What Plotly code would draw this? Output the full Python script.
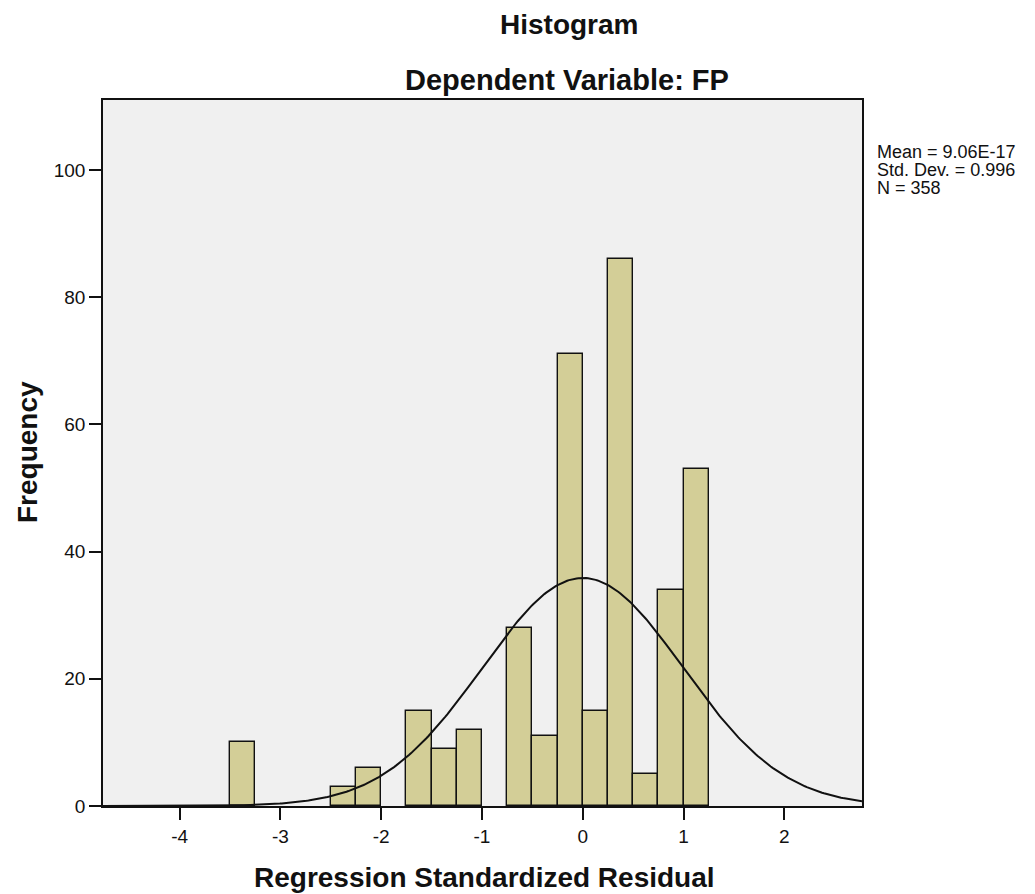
import numpy as np
import plotly.graph_objects as go

# ---- data ----
bin_left = [-3.5, -2.5, -2.25, -1.75, -1.5, -1.25, -0.75, -0.5, -0.25, 0.0, 0.25, 0.5, 0.75, 1.0]
counts = [10, 3, 6, 15, 9, 12, 28, 11, 71, 15, 86, 5, 34, 53]
bin_width = 0.25
mean_val = 9.06e-17
std_val = 0.996
n_val = 358
x_ticks = [-4, -3, -2, -1, 0, 1, 2]
y_ticks = [0, 20, 40, 60, 80, 100]
stats_lines = ["Mean = 9.06E-17", "Std. Dev. = 0.996", "N = 358"]

centers = [b + bin_width / 2 for b in bin_left]

xc = np.linspace(-4.76, 2.77, 400)
yc = n_val * bin_width / (std_val * np.sqrt(2 * np.pi)) * np.exp(-0.5 * ((xc - mean_val) / std_val) ** 2)

FONT = "Arial, Liberation Sans, sans-serif"

# page body has an 8px margin; compensate so the plot lands where the reference has it
OFF = 8
PL, PR, PT, PB = 103, 862, 100, 806
W, H = 1035 - OFF, 894 - OFF
PW, PH = PR - PL, PB - PT

fig = go.Figure()
fig.add_trace(go.Bar(
    x=centers, y=counts, width=bin_width,
    marker=dict(color="#D3CE97", line=dict(color="#111111", width=1.4)),
    showlegend=False, hoverinfo="x+y",
))
fig.add_trace(go.Scatter(
    x=xc, y=yc, mode="lines", line=dict(color="#111111", width=2),
    showlegend=False, hoverinfo="skip",
))

fig.update_layout(
    width=W, height=H,
    margin=dict(l=PL - OFF, r=W - (PR - OFF), t=PT - OFF, b=H - (PB - OFF), pad=0),
    paper_bgcolor="white", plot_bgcolor="#F0F0F0",
    font=dict(family=FONT, color="#111111", size=19),
    bargap=0,
)
axis_common = dict(
    tickmode="array", ticks="outside", ticklen=12, tickwidth=1.5, tickcolor="#111111",
    showgrid=False, zeroline=False,
    showline=True, linecolor="#111111", linewidth=1.5, mirror=True,
    tickfont=dict(size=19),
)
fig.update_xaxes(range=[-4.76, 2.77], tickvals=x_ticks,
                 ticktext=[str(t) for t in x_ticks], **axis_common)
fig.update_yaxes(range=[0, 111], tickvals=y_ticks,
                 ticktext=[str(t) for t in y_ticks], **axis_common)


def px(x):
    return (x - PL) / PW


def py(y):
    return (PB - y) / PH


annotations = [
    dict(text="<b>Histogram</b>", x=px(569), y=py(24), xref="paper", yref="paper",
         xanchor="center", yanchor="middle", showarrow=False, font=dict(size=28)),
    dict(text="<b>Dependent Variable: FP</b>", x=px(567), y=py(80), xref="paper", yref="paper",
         xanchor="center", yanchor="middle", showarrow=False, font=dict(size=29)),
    dict(text="<b>Regression Standardized Residual</b>", x=px(484), y=py(877), xref="paper", yref="paper",
         xanchor="center", yanchor="middle", showarrow=False, font=dict(size=28)),
    dict(text="<b>Frequency</b>", x=px(27), y=py(452), xref="paper", yref="paper",
         xanchor="center", yanchor="middle", showarrow=False, textangle=-90, font=dict(size=28)),
]
for txt, yy in zip(stats_lines, [152, 170, 188]):
    annotations.append(dict(
        text=txt, x=px(875), y=py(yy), xref="paper", yref="paper",
        xanchor="left", yanchor="middle", showarrow=False, font=dict(size=18),
    ))
fig.update_layout(annotations=annotations)

fig.write_html("out.html")
